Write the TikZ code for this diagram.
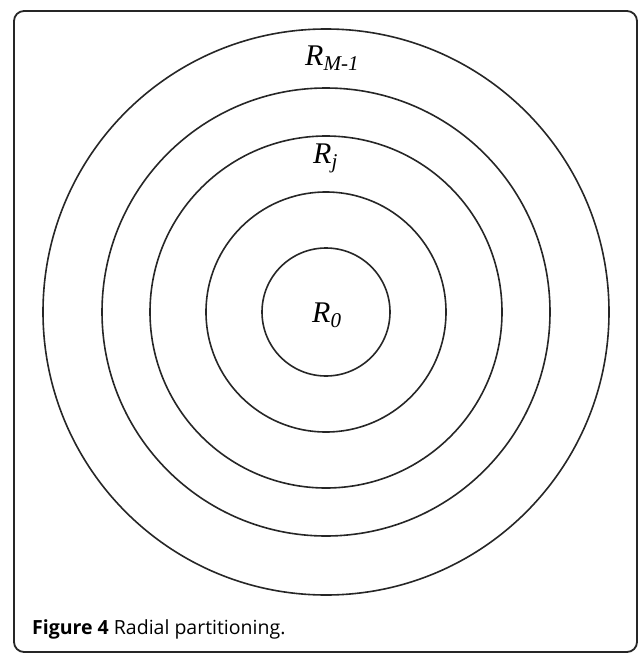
\documentclass[tikz,border=0pt]{standalone}
\usepackage{fontspec}
\setmainfont{Liberation Serif}
\newfontfamily\capfont{Open Sans}
\usepackage{tikz}
\usetikzlibrary{positioning}

\begin{document}
\begin{tikzpicture}[x=1pt, y=-1pt,
  ring/.style={draw=black!85, line width=1.6pt},
  region/.style={inner sep=0pt, anchor=base west, font=\fontsize{30}{30}\selectfont\itshape},
  caption/.style={inner sep=0pt, anchor=base west, font=\capfont\fontsize{19.5}{19.5}\selectfont}]
  \useasboundingbox (0,0) rectangle (638,653);
  \draw[black!85, line width=1.8pt, rounded corners=10pt] (14,11) rectangle (637,652);

  \coordinate (centre) at (326,312);
  \foreach \r in {64,120,176,224,283}
    \draw[ring] (centre) circle[radius=\r pt];

  \node[region] (rlast) at (305,65) {R\textsubscript{M-1}};
  \node[region] (rj) at (313,163) {R\textsubscript{j}};
  \node[region] (rzero) at (312,322) {R\textsubscript{0}};

  \node[caption] (cap) at (32,634) {\textbf{Figure 4} Radial partitioning.};
\end{tikzpicture}
\end{document}
